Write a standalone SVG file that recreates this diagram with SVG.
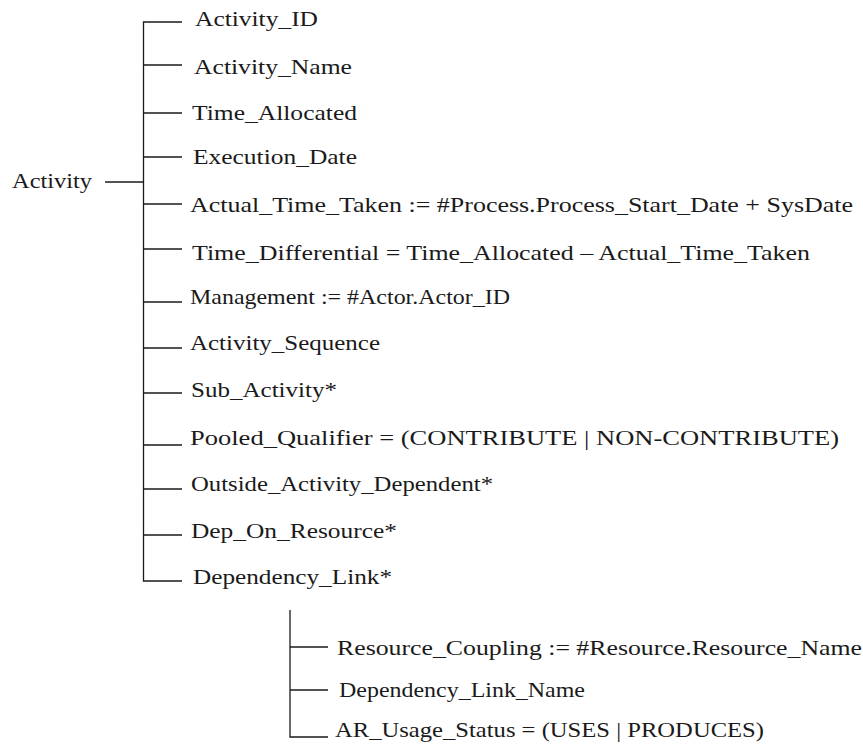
<svg xmlns="http://www.w3.org/2000/svg" width="863" height="748" viewBox="0 0 863 748">
  <style>
    .t { font-family: "Liberation Serif", "Times New Roman", serif; font-size: 22px; fill: #1a1a1a; }
    .ln { stroke: #1a1a1a; stroke-width: 1.3; fill: none; }
  </style>
  <rect width="863" height="748" fill="#fff"/>

  <!-- tree connectors -->
  <g id="connectors">
    <line class="ln" x1="105" y1="182" x2="143.5" y2="182"/>
    <path class="ln" d="M182,22 H143.5 V581 H182"/>
    <line class="ln" x1="143.5" y1="65" x2="182" y2="65"/>
    <line class="ln" x1="143.5" y1="113" x2="182" y2="113"/>
    <line class="ln" x1="143.5" y1="157" x2="182" y2="157"/>
    <line class="ln" x1="143.5" y1="204" x2="182" y2="204"/>
    <line class="ln" x1="143.5" y1="249" x2="182" y2="249"/>
    <line class="ln" x1="143.5" y1="302" x2="182" y2="302"/>
    <line class="ln" x1="143.5" y1="348" x2="182" y2="348"/>
    <line class="ln" x1="143.5" y1="393" x2="182" y2="393"/>
    <line class="ln" x1="143.5" y1="445" x2="182" y2="445"/>
    <line class="ln" x1="143.5" y1="489" x2="182" y2="489"/>
    <line class="ln" x1="143.5" y1="535" x2="182" y2="535"/>
    <!-- Dependency_Link sub-branch -->
    <path class="ln" d="M290,610 V737 H328"/>
    <line class="ln" x1="290" y1="647" x2="328" y2="647"/>
    <line class="ln" x1="290" y1="690" x2="328" y2="690"/>
  </g>

  <g id="activity"><text class="t" x="12" y="188" textLength="80" lengthAdjust="spacingAndGlyphs">Activity</text></g>

  <g id="attributes">
  <g id="attr-activity-id"><text class="t" x="195" y="26" textLength="123" lengthAdjust="spacingAndGlyphs">Activity_ID</text></g>
  <g id="attr-activity-name"><text class="t" x="194" y="74" textLength="158" lengthAdjust="spacingAndGlyphs">Activity_Name</text></g>
  <g id="attr-time-allocated"><text class="t" x="192" y="120" textLength="165" lengthAdjust="spacingAndGlyphs">Time_Allocated</text></g>
  <g id="attr-execution-date"><text class="t" x="193" y="164" textLength="164" lengthAdjust="spacingAndGlyphs">Execution_Date</text></g>
  <g id="attr-actual-time"><text class="t" x="190" y="212" textLength="663" lengthAdjust="spacingAndGlyphs">Actual_Time_Taken :=  #Process.Process_Start_Date + SysDate</text></g>
  <g id="attr-time-diff"><text class="t" x="192" y="260" textLength="618" lengthAdjust="spacingAndGlyphs">Time_Differential = Time_Allocated – Actual_Time_Taken</text></g>
  <g id="attr-management"><text class="t" x="190" y="304" textLength="320" lengthAdjust="spacingAndGlyphs">Management := #Actor.Actor_ID</text></g>
  <g id="attr-activity-seq"><text class="t" x="190" y="350" textLength="190" lengthAdjust="spacingAndGlyphs">Activity_Sequence</text></g>
  <g id="attr-sub-activity"><text class="t" x="191" y="397" textLength="146" lengthAdjust="spacingAndGlyphs">Sub_Activity*</text></g>
  <g id="attr-pooled"><text class="t" x="190" y="445" textLength="649" lengthAdjust="spacingAndGlyphs">Pooled_Qualifier = (CONTRIBUTE | NON-CONTRIBUTE)</text></g>
  <g id="attr-outside"><text class="t" x="191" y="491" textLength="302" lengthAdjust="spacingAndGlyphs">Outside_Activity_Dependent*</text></g>
  <g id="attr-dep-resource"><text class="t" x="191" y="538" textLength="206" lengthAdjust="spacingAndGlyphs">Dep_On_Resource*</text></g>
  <g id="attr-dep-link"><text class="t" x="193" y="584" textLength="199" lengthAdjust="spacingAndGlyphs">Dependency_Link*</text></g>
  <g id="attr-resource-coupling"><text class="t" x="337" y="655" textLength="525" lengthAdjust="spacingAndGlyphs">Resource_Coupling := #Resource.Resource_Name</text></g>
  <g id="attr-dep-link-name"><text class="t" x="339" y="697" textLength="246" lengthAdjust="spacingAndGlyphs">Dependency_Link_Name</text></g>
  <g id="attr-ar-usage"><text class="t" x="335" y="737" textLength="429" lengthAdjust="spacingAndGlyphs">AR_Usage_Status = (USES | PRODUCES)</text></g>
  </g>
</svg>
